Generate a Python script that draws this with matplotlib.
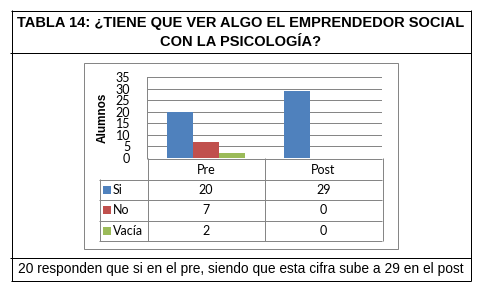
import matplotlib
matplotlib.use("Agg")
import matplotlib.pyplot as plt

# data
categories = ["Pre", "Post"]
series_names = ["Si", "No", "Vacía"]
si_vals = [20, 29]
no_vals = [7, 0]
vacia_vals = [2, 0]
y_ticks = [0, 5, 10, 15, 20, 25, 30, 35]

title_text = "TABLA 14: ¿TIENE QUE VER ALGO EL EMPRENDEDOR SOCIAL\nCON LA PSICOLOGÍA?"
footer_text = "20 responden que si en el pre, siendo que esta cifra sube a 29 en el post"

colors = ["#4F81BD", "#C0504D", "#9BBB59"]
grid_col = "#868686"
W, H = 488, 289
LW = 0.72  # ~1 px

fig = plt.figure(figsize=(W / 100, H / 100), dpi=100)

# background axes in pixel coords (y down) for frames and table
bg = fig.add_axes([0, 0, 1, 1])
bg.set_xlim(0, W)
bg.set_ylim(H, 0)
bg.axis("off")

def hline(y, x0, x1, c="black", lw=LW):
    bg.plot([x0, x1], [y, y], color=c, lw=lw, solid_capstyle="butt")

def vline(x, y0, y1, c="black", lw=LW):
    bg.plot([x, x], [y0, y1], color=c, lw=lw, solid_capstyle="butt")

# outer frame
hline(10.5, 11, 471)
hline(52.5, 10, 471)
hline(257.5, 10, 471)
hline(280.5, 11, 471)
vline(11.5, 10, 281)
vline(470.5, 10, 281)

bg.text(241, 32.5, title_text, ha="center", va="center", fontsize=10.5,
        fontweight="bold", family="Liberation Sans", linespacing=1.4)
bg.text(241, 268.5, footer_text, ha="center", va="center", fontsize=9.9,
        family="Liberation Sans")

# chart box
bg.add_patch(plt.Rectangle((83.5, 62.5), 314, 186, fill=False, ec=grid_col, lw=LW))

# bar axes
px0, px1, py_top, py_bot = 147, 382, 77, 158
ax = fig.add_axes([px0 / W, (H - py_bot) / H, (px1 - px0) / W, (py_bot - py_top) / H])
ax.set_xlim(0, len(categories))
ax.set_ylim(0, 35)
bw = 1 / 4.5
for i, vals in enumerate([si_vals, no_vals, vacia_vals]):
    xs = [k + 0.5 + (i - 1) * bw for k in range(len(categories))]
    ax.bar(xs, vals, width=bw, color=colors[i], zorder=3)
ax.set_yticks(y_ticks)
ax.yaxis.grid(True, color=grid_col, lw=LW, zorder=0)
ax.set_xticks([])
for s in ["top", "right", "bottom"]:
    ax.spines[s].set_visible(False)
ax.spines["left"].set_color(grid_col)
ax.spines["left"].set_linewidth(LW)
ax.tick_params(axis="y", length=0, pad=12, labelsize=9)
for lab in ax.get_yticklabels():
    lab.set_family("Lato")
ax.set_ylabel("Alumnos", fontsize=8.5, fontweight="bold", family="Liberation Sans", labelpad=5)
ax.patch.set_alpha(0)

# data table below axis
row_y = [158, 179, 199.5, 220, 240.5]
col_x = [99, 147, 264.5, 382]
hline(row_y[0] + 0.5, col_x[1], col_x[3], c=grid_col)
for y in row_y[1:]:
    hline(y + 0.5, col_x[0], col_x[3], c=grid_col)
vline(col_x[0] + 0.5, row_y[1], row_y[-1] + 0.5, c=grid_col)
for x in col_x[1:]:
    vline(x + 0.5, row_y[0], row_y[-1] + 0.5, c=grid_col)

for j, cat in enumerate(categories):
    cx = (col_x[j + 1] + col_x[j + 2]) / 2
    bg.text(cx, (row_y[0] + row_y[1]) / 2 + 1, cat, ha="center", va="center",
            fontsize=9, family="Lato")
for i, (name, vals) in enumerate(zip(series_names, [si_vals, no_vals, vacia_vals])):
    yc = (row_y[i + 1] + row_y[i + 2]) / 2 + 0.5
    bg.add_patch(plt.Rectangle((103, yc - 4), 8, 8, color=colors[i], lw=0))
    bg.text(113, yc, name, ha="left", va="center", fontsize=9, family="Lato")
    for j, v in enumerate(vals):
        cx = (col_x[j + 1] + col_x[j + 2]) / 2
        bg.text(cx, yc, str(v), ha="center", va="center", fontsize=9, family="Lato")

fig.savefig("out.png", dpi=100)
